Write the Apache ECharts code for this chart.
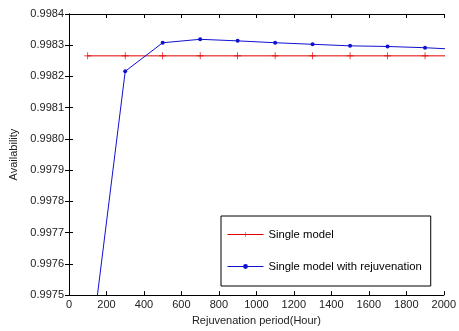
<!DOCTYPE html>
<html><head><meta charset="utf-8">
<script src="https://cdn.jsdelivr.net/npm/echarts@6/dist/echarts.min.js"></script>
<style>html,body{margin:0;padding:0;background:#fff}#c{width:459px;height:331px}</style>
</head><body><div id="c"></div>
<script>
var periods = [100, 300, 500, 700, 900, 1100, 1300, 1500, 1700, 1900, 2100];
var singleModel = [0.998266, 0.998266, 0.998266, 0.998266, 0.998266, 0.998266, 0.998266, 0.998266, 0.998266, 0.998266, 0.998266];
var withRejuv = [0.99725, 0.9982165, 0.998308, 0.998319, 0.998314, 0.998308, 0.998303, 0.998298, 0.998296, 0.998292, 0.998286];
var seriesNames = ['Single model', 'Single model with rejuvenation'];
var xTitle = 'Rejuvenation period(Hour)';
var yTitle = 'Availability';

function pairs(xs, ys){ return xs.map(function(x,i){ return [x, ys[i]]; }); }
var font = 'Liberation Sans, Arial, sans-serif';
var chart = echarts.init(document.getElementById('c'), null, {renderer:'canvas'});
var axisCommon = {
  axisLine:{show:true, lineStyle:{color:'#000', width:1}},
  axisTick:{show:true, inside:true, length:4, lineStyle:{color:'#000'}},
  splitLine:{show:false}
};
chart.setOption({
  backgroundColor:'#fff',
  animation:false,
  grid:{left:66, top:14, right:11, bottom:33},
  xAxis:[
    Object.assign({type:'value', min:0, max:2000, interval:200, position:'bottom',
      name:xTitle, nameLocation:'middle', nameGap:18,
      nameTextStyle:{fontFamily:font, fontSize:11, color:'#222'},
      axisLabel:{fontFamily:font, fontSize:11, color:'#222', margin:4,
        formatter:function(v){ return String(v); }}}, axisCommon),
    Object.assign({type:'value', min:0, max:2000, interval:200, position:'top',
      axisLabel:{show:false}}, axisCommon)
  ],
  yAxis:[
    Object.assign({type:'value', min:0.9975, max:0.9984, interval:0.0001, position:'left',
      name:yTitle, nameLocation:'middle', nameGap:50,
      nameTextStyle:{fontFamily:font, fontSize:11, color:'#222'},
      axisLabel:{fontFamily:font, fontSize:11, color:'#222', margin:5,
        formatter:function(v){ return v.toFixed(4); }}}, axisCommon),
    Object.assign({type:'value', min:0.9975, max:0.9984, interval:0.0001, position:'right',
      axisLabel:{show:false}}, axisCommon)
  ],
  legend:{
    orient:'vertical', left:221, top:216,
    padding:[13, 9, 14, 6], itemGap:21, itemWidth:36, itemHeight:6,
    borderColor:'#000', borderWidth:1, backgroundColor:'#fff',
    lineStyle:{width:1},
    textStyle:{fontFamily:font, fontSize:11.3, color:'#000'},
    data:seriesNames
  },
  series:[
    {name:seriesNames[0], type:'line', data:pairs(periods, singleModel),
     xAxisIndex:0, yAxisIndex:0, clip:true,
     symbol:'path://M4.5 0 H5.5 V10 H4.5 Z M0 4.5 H10 V5.5 H0 Z', symbolSize:7,
     lineStyle:{color:'#e00000', width:1}, itemStyle:{color:'#e00000'}},
    {name:seriesNames[1], type:'line', data:pairs(periods, withRejuv),
     xAxisIndex:0, yAxisIndex:0, clip:true,
     symbol:'circle', symbolSize:4,
     lineStyle:{color:'#1010d0', width:1}, itemStyle:{color:'#1010d0'}}
  ]
});
</script></body></html>
